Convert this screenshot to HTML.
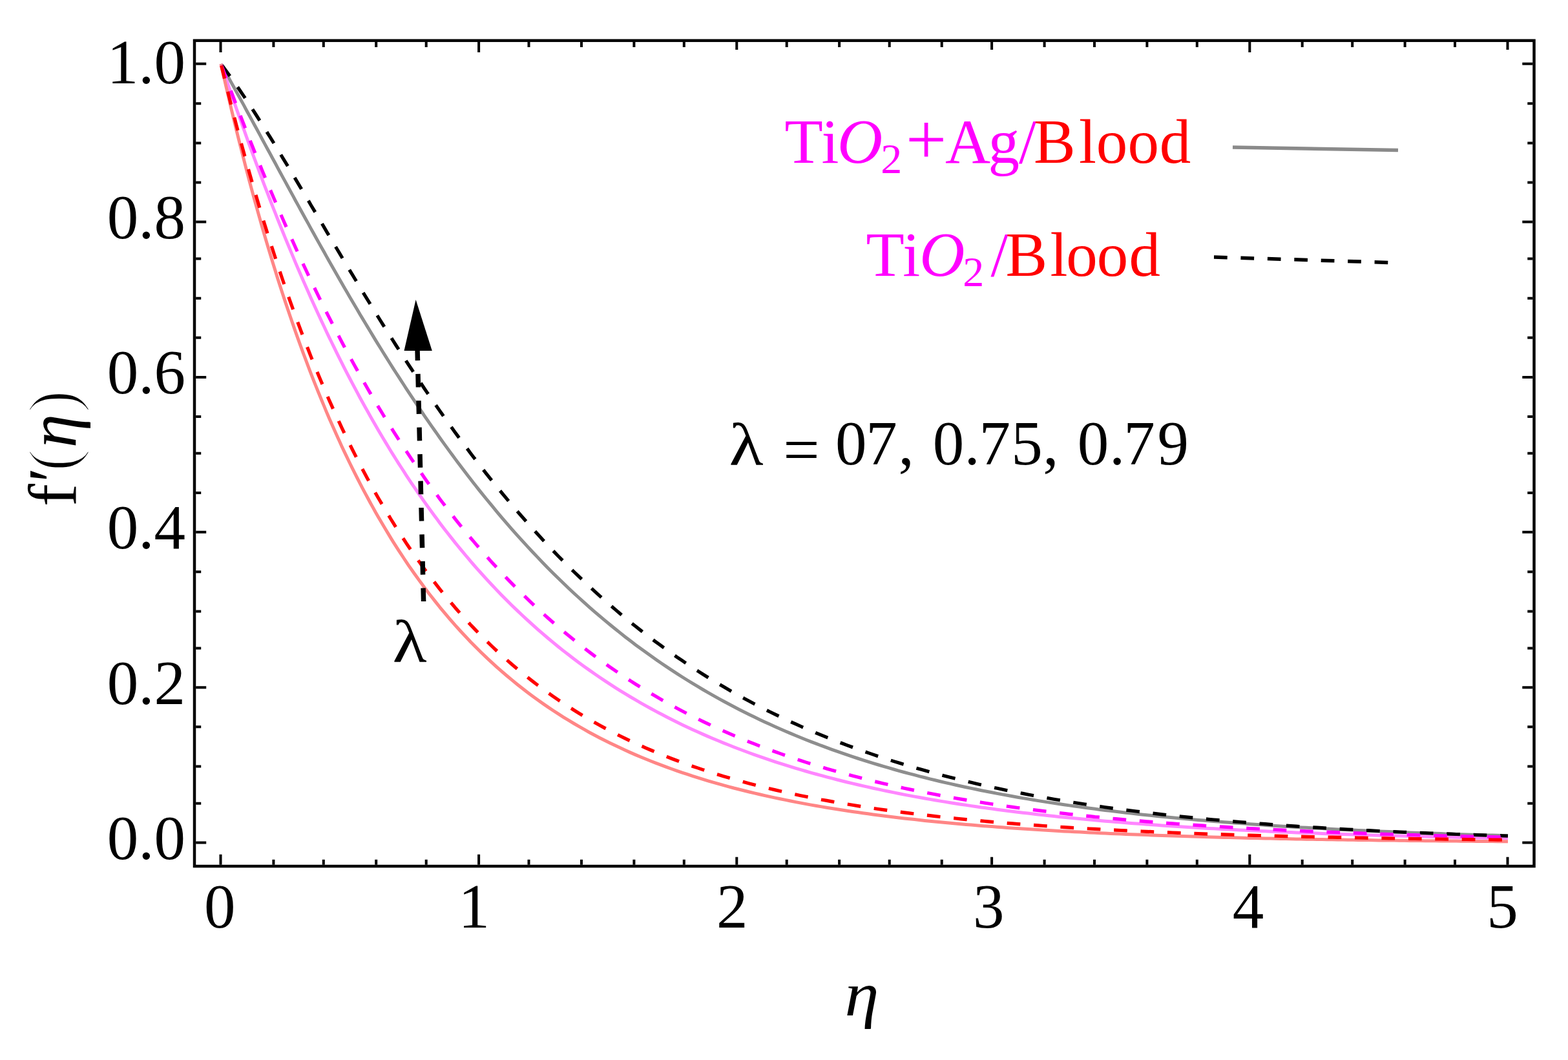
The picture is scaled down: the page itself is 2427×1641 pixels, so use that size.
<!DOCTYPE html>
<html><head><meta charset="utf-8"><title>f′(η) vs η</title>
<style>html,body{margin:0;padding:0;background:#fff;overflow:hidden;}svg{display:block;}text{font-family:"Liberation Serif","Times New Roman",serif;}</style></head><body>
<svg width="2427" height="1641" viewBox="0 0 2427 1641">
<rect x="0" y="0" width="2427" height="1641" fill="#fff"/>
<g fill="none" stroke-linejoin="round">
<path d="M342.0,99.0 L346.0,106.1 L350.0,113.3 L354.0,120.4 L357.9,127.6 L361.9,134.8 L365.9,142.1 L369.9,149.3 L373.9,156.6 L377.9,163.9 L381.8,171.2 L385.8,178.5 L389.8,185.9 L393.8,193.2 L397.8,200.5 L401.8,207.9 L405.7,215.2 L409.7,222.6 L413.7,230.0 L417.7,237.3 L421.7,244.7 L425.7,252.0 L429.6,259.4 L433.6,266.7 L437.6,274.1 L441.6,281.4 L445.6,288.7 L449.6,296.1 L453.6,303.4 L457.5,310.7 L461.5,317.9 L465.5,325.2 L469.5,332.5 L473.5,339.7 L477.5,346.9 L481.4,354.1 L485.4,361.3 L489.4,368.4 L493.4,375.6 L497.4,382.7 L501.4,389.8 L505.3,396.9 L509.3,403.9 L513.3,411.0 L517.3,418.0 L521.3,424.9 L525.3,431.9 L529.2,438.8 L533.2,445.7 L537.2,452.6 L541.2,459.4 L545.2,466.2 L549.2,473.0 L553.2,479.7 L557.1,486.5 L561.1,493.1 L565.1,499.8 L569.1,506.4 L573.1,513.0 L577.1,519.6 L581.0,526.1 L585.0,532.6 L589.0,539.0 L593.0,545.5 L597.0,551.8 L601.0,558.2 L604.9,564.5 L608.9,570.8 L612.9,577.0 L616.9,583.2 L620.9,589.4 L624.9,595.5 L628.8,601.6 L632.8,607.7 L636.8,613.7 L640.8,619.7 L644.8,625.7 L648.8,631.6 L652.8,637.5 L656.7,643.3 L660.7,649.1 L664.7,654.9 L668.7,660.6 L672.7,666.3 L676.7,671.9 L680.6,677.5 L684.6,683.1 L688.6,688.6 L692.6,694.1 L696.6,699.6 L700.6,705.0 L704.5,710.4 L708.5,715.7 L712.5,721.0 L716.5,726.3 L720.5,731.5 L724.5,736.7 L728.4,741.8 L732.4,747.0 L736.4,752.0 L740.4,757.1 L744.4,762.1 L752.4,772.0 L760.4,781.7 L768.3,791.3 L776.3,800.8 L784.3,810.1 L792.3,819.3 L800.3,828.3 L808.3,837.2 L816.3,845.9 L824.3,854.5 L832.3,862.9 L840.2,871.2 L848.2,879.4 L856.2,887.4 L864.2,895.3 L872.2,903.0 L880.2,910.7 L888.2,918.2 L896.2,925.5 L904.1,932.7 L912.1,939.9 L920.1,946.8 L928.1,953.7 L936.1,960.4 L944.1,967.0 L952.1,973.5 L960.1,979.9 L968.0,986.2 L976.0,992.3 L984.0,998.4 L992.0,1004.3 L1000.0,1010.1 L1008.0,1015.8 L1016.0,1021.5 L1024.0,1027.0 L1032.0,1032.4 L1039.9,1037.7 L1047.9,1042.9 L1055.9,1048.0 L1063.9,1053.0 L1071.9,1057.9 L1079.9,1062.7 L1087.9,1067.5 L1095.9,1072.1 L1103.8,1076.6 L1111.8,1081.1 L1119.8,1085.5 L1127.8,1089.8 L1135.8,1094.0 L1143.8,1098.2 L1151.8,1102.2 L1159.8,1106.2 L1167.7,1110.1 L1175.7,1113.9 L1183.7,1117.7 L1191.7,1121.3 L1199.7,1125.0 L1207.7,1128.5 L1215.7,1132.0 L1223.7,1135.4 L1231.7,1138.7 L1239.6,1142.0 L1247.6,1145.2 L1255.6,1148.3 L1263.6,1151.4 L1271.6,1154.4 L1279.6,1157.4 L1287.6,1160.3 L1295.6,1163.2 L1303.5,1165.9 L1311.5,1168.7 L1319.5,1171.4 L1327.5,1174.0 L1335.5,1176.6 L1343.5,1179.1 L1351.5,1181.6 L1359.5,1184.0 L1367.4,1186.4 L1375.4,1188.7 L1383.4,1191.0 L1391.4,1193.3 L1399.4,1195.5 L1407.4,1197.6 L1415.4,1199.7 L1423.4,1201.8 L1431.4,1203.8 L1439.3,1205.8 L1447.3,1207.8 L1455.3,1209.7 L1463.3,1211.6 L1471.3,1213.4 L1479.3,1215.2 L1487.3,1217.0 L1495.3,1218.7 L1503.2,1220.4 L1511.2,1222.0 L1519.2,1223.7 L1527.2,1225.3 L1535.2,1226.8 L1543.2,1228.4 L1551.2,1229.9 L1559.2,1231.3 L1567.2,1232.8 L1575.1,1234.2 L1583.1,1235.6 L1591.1,1236.9 L1599.1,1238.3 L1607.1,1239.6 L1615.1,1240.9 L1623.1,1242.1 L1631.1,1243.3 L1639.0,1244.5 L1647.0,1245.7 L1655.0,1246.9 L1663.0,1248.0 L1671.0,1249.1 L1679.0,1250.2 L1687.0,1251.3 L1695.0,1252.3 L1702.9,1253.4 L1710.9,1254.4 L1718.9,1255.3 L1726.9,1256.3 L1734.9,1257.3 L1742.9,1258.2 L1750.9,1259.1 L1758.9,1260.0 L1766.9,1260.9 L1774.8,1261.7 L1782.8,1262.6 L1790.8,1263.4 L1798.8,1264.2 L1806.8,1265.0 L1814.8,1265.8 L1822.8,1266.5 L1830.8,1267.3 L1838.7,1268.0 L1846.7,1268.7 L1854.7,1269.4 L1862.7,1270.1 L1870.7,1270.8 L1878.7,1271.4 L1886.7,1272.1 L1894.7,1272.7 L1902.6,1273.3 L1910.6,1273.9 L1918.6,1274.5 L1926.6,1275.1 L1934.6,1275.7 L1942.6,1276.3 L1950.6,1276.8 L1958.6,1277.4 L1966.6,1277.9 L1974.5,1278.4 L1982.5,1278.9 L1990.5,1279.4 L1998.5,1279.9 L2006.5,1280.4 L2014.5,1280.9 L2022.5,1281.3 L2030.5,1281.8 L2038.4,1282.2 L2046.4,1282.6 L2054.4,1283.1 L2062.4,1283.5 L2070.4,1283.9 L2078.4,1284.3 L2086.4,1284.7 L2094.4,1285.1 L2102.3,1285.5 L2110.3,1285.8 L2118.3,1286.2 L2126.3,1286.6 L2134.3,1286.9 L2142.3,1287.3 L2150.3,1287.6 L2158.3,1287.9 L2166.3,1288.2 L2174.2,1288.6 L2182.2,1288.9 L2190.2,1289.2 L2198.2,1289.5 L2206.2,1289.8 L2214.2,1290.1 L2222.2,1290.3 L2230.2,1290.6 L2238.1,1290.9 L2246.1,1291.2 L2254.1,1291.4 L2262.1,1291.7 L2270.1,1291.9 L2278.1,1292.2 L2286.1,1292.4 L2294.1,1292.6 L2302.0,1292.9 L2310.0,1293.1 L2318.0,1293.3 L2326.0,1293.5 L2334.0,1293.8" stroke="#8e8e8e" stroke-width="5"/>
<path d="M342.0,99.0 L346.0,110.7 L350.0,122.3 L354.0,133.8 L357.9,145.3 L361.9,156.7 L365.9,168.1 L369.9,179.3 L373.9,190.5 L377.9,201.7 L381.8,212.7 L385.8,223.7 L389.8,234.6 L393.8,245.4 L397.8,256.1 L401.8,266.8 L405.7,277.3 L409.7,287.8 L413.7,298.2 L417.7,308.5 L421.7,318.8 L425.7,328.9 L429.6,338.9 L433.6,348.9 L437.6,358.8 L441.6,368.6 L445.6,378.3 L449.6,387.9 L453.6,397.4 L457.5,406.9 L461.5,416.2 L465.5,425.5 L469.5,434.7 L473.5,443.8 L477.5,452.8 L481.4,461.7 L485.4,470.6 L489.4,479.3 L493.4,488.0 L497.4,496.6 L501.4,505.0 L505.3,513.5 L509.3,521.8 L513.3,530.0 L517.3,538.2 L521.3,546.3 L525.3,554.3 L529.2,562.2 L533.2,570.1 L537.2,577.8 L541.2,585.5 L545.2,593.1 L549.2,600.6 L553.2,608.1 L557.1,615.5 L561.1,622.8 L565.1,630.0 L569.1,637.1 L573.1,644.2 L577.1,651.2 L581.0,658.1 L585.0,665.0 L589.0,671.8 L593.0,678.5 L597.0,685.1 L601.0,691.7 L604.9,698.2 L608.9,704.6 L612.9,711.0 L616.9,717.3 L620.9,723.5 L624.9,729.7 L628.8,735.8 L632.8,741.8 L636.8,747.8 L640.8,753.7 L644.8,759.5 L648.8,765.3 L652.8,771.0 L656.7,776.7 L660.7,782.3 L664.7,787.8 L668.7,793.3 L672.7,798.8 L676.7,804.1 L680.6,809.4 L684.6,814.7 L688.6,819.9 L692.6,825.0 L696.6,830.1 L700.6,835.1 L704.5,840.1 L708.5,845.0 L712.5,849.9 L716.5,854.7 L720.5,859.5 L724.5,864.2 L728.4,868.9 L732.4,873.5 L736.4,878.1 L740.4,882.6 L744.4,887.0 L752.4,895.9 L760.4,904.5 L768.3,912.9 L776.3,921.2 L784.3,929.3 L792.3,937.2 L800.3,944.9 L808.3,952.5 L816.3,959.9 L824.3,967.2 L832.3,974.3 L840.2,981.2 L848.2,988.0 L856.2,994.7 L864.2,1001.2 L872.2,1007.6 L880.2,1013.8 L888.2,1019.9 L896.2,1025.9 L904.1,1031.7 L912.1,1037.4 L920.1,1043.0 L928.1,1048.5 L936.1,1053.9 L944.1,1059.1 L952.1,1064.3 L960.1,1069.3 L968.0,1074.2 L976.0,1079.0 L984.0,1083.7 L992.0,1088.3 L1000.0,1092.9 L1008.0,1097.3 L1016.0,1101.6 L1024.0,1105.8 L1032.0,1110.0 L1039.9,1114.0 L1047.9,1118.0 L1055.9,1121.9 L1063.9,1125.7 L1071.9,1129.4 L1079.9,1133.0 L1087.9,1136.6 L1095.9,1140.1 L1103.8,1143.5 L1111.8,1146.8 L1119.8,1150.1 L1127.8,1153.3 L1135.8,1156.5 L1143.8,1159.5 L1151.8,1162.5 L1159.8,1165.5 L1167.7,1168.4 L1175.7,1171.2 L1183.7,1173.9 L1191.7,1176.6 L1199.7,1179.3 L1207.7,1181.9 L1215.7,1184.4 L1223.7,1186.9 L1231.7,1189.3 L1239.6,1191.7 L1247.6,1194.0 L1255.6,1196.3 L1263.6,1198.5 L1271.6,1200.7 L1279.6,1202.8 L1287.6,1204.9 L1295.6,1207.0 L1303.5,1209.0 L1311.5,1211.0 L1319.5,1212.9 L1327.5,1214.8 L1335.5,1216.6 L1343.5,1218.4 L1351.5,1220.2 L1359.5,1221.9 L1367.4,1223.6 L1375.4,1225.3 L1383.4,1226.9 L1391.4,1228.5 L1399.4,1230.1 L1407.4,1231.6 L1415.4,1233.1 L1423.4,1234.5 L1431.4,1236.0 L1439.3,1237.4 L1447.3,1238.7 L1455.3,1240.1 L1463.3,1241.4 L1471.3,1242.7 L1479.3,1244.0 L1487.3,1245.2 L1495.3,1246.4 L1503.2,1247.6 L1511.2,1248.8 L1519.2,1249.9 L1527.2,1251.0 L1535.2,1252.1 L1543.2,1253.2 L1551.2,1254.2 L1559.2,1255.2 L1567.2,1256.2 L1575.1,1257.2 L1583.1,1258.2 L1591.1,1259.1 L1599.1,1260.0 L1607.1,1261.0 L1615.1,1261.8 L1623.1,1262.7 L1631.1,1263.6 L1639.0,1264.4 L1647.0,1265.2 L1655.0,1266.0 L1663.0,1266.8 L1671.0,1267.6 L1679.0,1268.3 L1687.0,1269.0 L1695.0,1269.8 L1702.9,1270.5 L1710.9,1271.2 L1718.9,1271.8 L1726.9,1272.5 L1734.9,1273.1 L1742.9,1273.8 L1750.9,1274.4 L1758.9,1275.0 L1766.9,1275.6 L1774.8,1276.2 L1782.8,1276.8 L1790.8,1277.3 L1798.8,1277.9 L1806.8,1278.4 L1814.8,1278.9 L1822.8,1279.5 L1830.8,1280.0 L1838.7,1280.5 L1846.7,1281.0 L1854.7,1281.4 L1862.7,1281.9 L1870.7,1282.4 L1878.7,1282.8 L1886.7,1283.2 L1894.7,1283.7 L1902.6,1284.1 L1910.6,1284.5 L1918.6,1284.9 L1926.6,1285.3 L1934.6,1285.7 L1942.6,1286.1 L1950.6,1286.5 L1958.6,1286.8 L1966.6,1287.2 L1974.5,1287.5 L1982.5,1287.9 L1990.5,1288.2 L1998.5,1288.5 L2006.5,1288.9 L2014.5,1289.2 L2022.5,1289.5 L2030.5,1289.8 L2038.4,1290.1 L2046.4,1290.4 L2054.4,1290.7 L2062.4,1291.0 L2070.4,1291.2 L2078.4,1291.5 L2086.4,1291.8 L2094.4,1292.0 L2102.3,1292.3 L2110.3,1292.5 L2118.3,1292.8 L2126.3,1293.0 L2134.3,1293.2 L2142.3,1293.5 L2150.3,1293.7 L2158.3,1293.9 L2166.3,1294.1 L2174.2,1294.3 L2182.2,1294.5 L2190.2,1294.7 L2198.2,1294.9 L2206.2,1295.1 L2214.2,1295.3 L2222.2,1295.5 L2230.2,1295.7 L2238.1,1295.9 L2246.1,1296.1 L2254.1,1296.2 L2262.1,1296.4 L2270.1,1296.6 L2278.1,1296.7 L2286.1,1296.9 L2294.1,1297.1 L2302.0,1297.2 L2310.0,1297.4 L2318.0,1297.5 L2326.0,1297.6 L2334.0,1297.8" stroke="#ff86ff" stroke-width="5"/>
<path d="M342.0,99.0 L346.0,116.7 L350.0,134.2 L354.0,151.4 L357.9,168.3 L361.9,184.9 L365.9,201.3 L369.9,217.4 L373.9,233.2 L377.9,248.8 L381.8,264.2 L385.8,279.3 L389.8,294.1 L393.8,308.8 L397.8,323.2 L401.8,337.3 L405.7,351.3 L409.7,365.0 L413.7,378.5 L417.7,391.8 L421.7,404.9 L425.7,417.8 L429.6,430.5 L433.6,443.0 L437.6,455.3 L441.6,467.4 L445.6,479.3 L449.6,491.0 L453.6,502.6 L457.5,514.0 L461.5,525.2 L465.5,536.2 L469.5,547.1 L473.5,557.7 L477.5,568.3 L481.4,578.6 L485.4,588.8 L489.4,598.9 L493.4,608.8 L497.4,618.5 L501.4,628.1 L505.3,637.6 L509.3,646.9 L513.3,656.1 L517.3,665.1 L521.3,674.0 L525.3,682.7 L529.2,691.4 L533.2,699.9 L537.2,708.2 L541.2,716.5 L545.2,724.6 L549.2,732.6 L553.2,740.5 L557.1,748.2 L561.1,755.9 L565.1,763.4 L569.1,770.8 L573.1,778.2 L577.1,785.4 L581.0,792.5 L585.0,799.4 L589.0,806.3 L593.0,813.1 L597.0,819.8 L601.0,826.4 L604.9,832.9 L608.9,839.3 L612.9,845.6 L616.9,851.8 L620.9,857.9 L624.9,864.0 L628.8,869.9 L632.8,875.8 L636.8,881.5 L640.8,887.2 L644.8,892.8 L648.8,898.4 L652.8,903.8 L656.7,909.2 L660.7,914.5 L664.7,919.7 L668.7,924.8 L672.7,929.9 L676.7,934.9 L680.6,939.8 L684.6,944.6 L688.6,949.4 L692.6,954.1 L696.6,958.8 L700.6,963.4 L704.5,967.9 L708.5,972.3 L712.5,976.7 L716.5,981.0 L720.5,985.3 L724.5,989.5 L728.4,993.7 L732.4,997.7 L736.4,1001.8 L740.4,1005.8 L744.4,1009.7 L752.4,1017.4 L760.4,1024.8 L768.3,1032.1 L776.3,1039.2 L784.3,1046.0 L792.3,1052.7 L800.3,1059.2 L808.3,1065.5 L816.3,1071.7 L824.3,1077.7 L832.3,1083.5 L840.2,1089.1 L848.2,1094.6 L856.2,1100.0 L864.2,1105.2 L872.2,1110.3 L880.2,1115.2 L888.2,1120.0 L896.2,1124.7 L904.1,1129.2 L912.1,1133.7 L920.1,1138.0 L928.1,1142.2 L936.1,1146.2 L944.1,1150.2 L952.1,1154.1 L960.1,1157.8 L968.0,1161.5 L976.0,1165.1 L984.0,1168.6 L992.0,1172.0 L1000.0,1175.3 L1008.0,1178.5 L1016.0,1181.6 L1024.0,1184.6 L1032.0,1187.6 L1039.9,1190.5 L1047.9,1193.3 L1055.9,1196.1 L1063.9,1198.7 L1071.9,1201.4 L1079.9,1203.9 L1087.9,1206.4 L1095.9,1208.8 L1103.8,1211.1 L1111.8,1213.4 L1119.8,1215.7 L1127.8,1217.8 L1135.8,1220.0 L1143.8,1222.0 L1151.8,1224.0 L1159.8,1226.0 L1167.7,1227.9 L1175.7,1229.8 L1183.7,1231.6 L1191.7,1233.4 L1199.7,1235.1 L1207.7,1236.8 L1215.7,1238.4 L1223.7,1240.0 L1231.7,1241.6 L1239.6,1243.1 L1247.6,1244.6 L1255.6,1246.1 L1263.6,1247.5 L1271.6,1248.9 L1279.6,1250.2 L1287.6,1251.5 L1295.6,1252.8 L1303.5,1254.0 L1311.5,1255.3 L1319.5,1256.5 L1327.5,1257.6 L1335.5,1258.7 L1343.5,1259.8 L1351.5,1260.9 L1359.5,1262.0 L1367.4,1263.0 L1375.4,1264.0 L1383.4,1265.0 L1391.4,1265.9 L1399.4,1266.9 L1407.4,1267.8 L1415.4,1268.6 L1423.4,1269.5 L1431.4,1270.4 L1439.3,1271.2 L1447.3,1272.0 L1455.3,1272.8 L1463.3,1273.5 L1471.3,1274.3 L1479.3,1275.0 L1487.3,1275.7 L1495.3,1276.4 L1503.2,1277.1 L1511.2,1277.7 L1519.2,1278.4 L1527.2,1279.0 L1535.2,1279.6 L1543.2,1280.2 L1551.2,1280.8 L1559.2,1281.4 L1567.2,1282.0 L1575.1,1282.5 L1583.1,1283.0 L1591.1,1283.5 L1599.1,1284.1 L1607.1,1284.6 L1615.1,1285.0 L1623.1,1285.5 L1631.1,1286.0 L1639.0,1286.4 L1647.0,1286.9 L1655.0,1287.3 L1663.0,1287.7 L1671.0,1288.1 L1679.0,1288.5 L1687.0,1288.9 L1695.0,1289.3 L1702.9,1289.7 L1710.9,1290.0 L1718.9,1290.4 L1726.9,1290.7 L1734.9,1291.1 L1742.9,1291.4 L1750.9,1291.7 L1758.9,1292.0 L1766.9,1292.3 L1774.8,1292.6 L1782.8,1292.9 L1790.8,1293.2 L1798.8,1293.5 L1806.8,1293.8 L1814.8,1294.0 L1822.8,1294.3 L1830.8,1294.6 L1838.7,1294.8 L1846.7,1295.0 L1854.7,1295.3 L1862.7,1295.5 L1870.7,1295.7 L1878.7,1296.0 L1886.7,1296.2 L1894.7,1296.4 L1902.6,1296.6 L1910.6,1296.8 L1918.6,1297.0 L1926.6,1297.2 L1934.6,1297.4 L1942.6,1297.5 L1950.6,1297.7 L1958.6,1297.9 L1966.6,1298.1 L1974.5,1298.2 L1982.5,1298.4 L1990.5,1298.6 L1998.5,1298.7 L2006.5,1298.9 L2014.5,1299.0 L2022.5,1299.2 L2030.5,1299.3 L2038.4,1299.4 L2046.4,1299.6 L2054.4,1299.7 L2062.4,1299.8 L2070.4,1300.0 L2078.4,1300.1 L2086.4,1300.2 L2094.4,1300.3 L2102.3,1300.4 L2110.3,1300.5 L2118.3,1300.6 L2126.3,1300.7 L2134.3,1300.9 L2142.3,1301.0 L2150.3,1301.1 L2158.3,1301.1 L2166.3,1301.2 L2174.2,1301.3 L2182.2,1301.4 L2190.2,1301.5 L2198.2,1301.6 L2206.2,1301.7 L2214.2,1301.8 L2222.2,1301.8 L2230.2,1301.9 L2238.1,1302.0 L2246.1,1302.1 L2254.1,1302.1 L2262.1,1302.2 L2270.1,1302.3 L2278.1,1302.3 L2286.1,1302.4 L2294.1,1302.5 L2302.0,1302.5 L2310.0,1302.6 L2318.0,1302.7 L2326.0,1302.7 L2334.0,1302.8" stroke="#ff8686" stroke-width="5"/>
<path d="M342.0,99.0 L346.0,104.3 L350.0,109.7 L354.0,115.2 L357.9,120.7 L361.9,126.3 L365.9,132.1 L369.9,137.8 L373.9,143.7 L377.9,149.6 L381.8,155.6 L385.8,161.6 L389.8,167.7 L393.8,173.8 L397.8,180.0 L401.8,186.3 L405.7,192.6 L409.7,198.9 L413.7,205.3 L417.7,211.7 L421.7,218.1 L425.7,224.6 L429.6,231.1 L433.6,237.7 L437.6,244.3 L441.6,250.8 L445.6,257.5 L449.6,264.1 L453.6,270.7 L457.5,277.4 L461.5,284.1 L465.5,290.8 L469.5,297.5 L473.5,304.2 L477.5,310.9 L481.4,317.7 L485.4,324.4 L489.4,331.1 L493.4,337.9 L497.4,344.6 L501.4,351.4 L505.3,358.1 L509.3,364.8 L513.3,371.5 L517.3,378.2 L521.3,385.0 L525.3,391.6 L529.2,398.3 L533.2,405.0 L537.2,411.7 L541.2,418.3 L545.2,424.9 L549.2,431.5 L553.2,438.1 L557.1,444.7 L561.1,451.3 L565.1,457.8 L569.1,464.3 L573.1,470.8 L577.1,477.3 L581.0,483.8 L585.0,490.2 L589.0,496.6 L593.0,503.0 L597.0,509.3 L601.0,515.6 L604.9,521.9 L608.9,528.2 L612.9,534.5 L616.9,540.7 L620.9,546.9 L624.9,553.0 L628.8,559.2 L632.8,565.3 L636.8,571.3 L640.8,577.4 L644.8,583.4 L648.8,589.3 L652.8,595.3 L656.7,601.2 L660.7,607.1 L664.7,612.9 L668.7,618.7 L672.7,624.5 L676.7,630.2 L680.6,635.9 L684.6,641.6 L688.6,647.3 L692.6,652.9 L696.6,658.4 L700.6,664.0 L704.5,669.5 L708.5,674.9 L712.5,680.4 L716.5,685.8 L720.5,691.1 L724.5,696.4 L728.4,701.7 L732.4,707.0 L736.4,712.2 L740.4,717.4 L744.4,722.5 L752.4,732.8 L760.4,742.8 L768.3,752.8 L776.3,762.5 L784.3,772.2 L792.3,781.7 L800.3,791.1 L808.3,800.3 L816.3,809.4 L824.3,818.3 L832.3,827.1 L840.2,835.8 L848.2,844.3 L856.2,852.7 L864.2,861.0 L872.2,869.1 L880.2,877.1 L888.2,885.0 L896.2,892.7 L904.1,900.3 L912.1,907.8 L920.1,915.2 L928.1,922.4 L936.1,929.5 L944.1,936.5 L952.1,943.4 L960.1,950.2 L968.0,956.8 L976.0,963.4 L984.0,969.8 L992.0,976.1 L1000.0,982.3 L1008.0,988.4 L1016.0,994.4 L1024.0,1000.2 L1032.0,1006.0 L1039.9,1011.7 L1047.9,1017.3 L1055.9,1022.7 L1063.9,1028.1 L1071.9,1033.4 L1079.9,1038.6 L1087.9,1043.7 L1095.9,1048.7 L1103.8,1053.6 L1111.8,1058.4 L1119.8,1063.1 L1127.8,1067.8 L1135.8,1072.3 L1143.8,1076.8 L1151.8,1081.2 L1159.8,1085.5 L1167.7,1089.7 L1175.7,1093.9 L1183.7,1098.0 L1191.7,1102.0 L1199.7,1105.9 L1207.7,1109.8 L1215.7,1113.6 L1223.7,1117.3 L1231.7,1120.9 L1239.6,1124.5 L1247.6,1128.0 L1255.6,1131.5 L1263.6,1134.9 L1271.6,1138.2 L1279.6,1141.4 L1287.6,1144.6 L1295.6,1147.8 L1303.5,1150.8 L1311.5,1153.9 L1319.5,1156.8 L1327.5,1159.7 L1335.5,1162.6 L1343.5,1165.4 L1351.5,1168.1 L1359.5,1170.8 L1367.4,1173.5 L1375.4,1176.0 L1383.4,1178.6 L1391.4,1181.1 L1399.4,1183.5 L1407.4,1185.9 L1415.4,1188.3 L1423.4,1190.6 L1431.4,1192.8 L1439.3,1195.1 L1447.3,1197.2 L1455.3,1199.4 L1463.3,1201.5 L1471.3,1203.5 L1479.3,1205.5 L1487.3,1207.5 L1495.3,1209.4 L1503.2,1211.3 L1511.2,1213.2 L1519.2,1215.0 L1527.2,1216.8 L1535.2,1218.6 L1543.2,1220.3 L1551.2,1222.0 L1559.2,1223.7 L1567.2,1225.3 L1575.1,1226.9 L1583.1,1228.4 L1591.1,1230.0 L1599.1,1231.5 L1607.1,1232.9 L1615.1,1234.4 L1623.1,1235.8 L1631.1,1237.2 L1639.0,1238.5 L1647.0,1239.9 L1655.0,1241.2 L1663.0,1242.5 L1671.0,1243.7 L1679.0,1245.0 L1687.0,1246.2 L1695.0,1247.4 L1702.9,1248.5 L1710.9,1249.7 L1718.9,1250.8 L1726.9,1251.9 L1734.9,1252.9 L1742.9,1254.0 L1750.9,1255.0 L1758.9,1256.0 L1766.9,1257.0 L1774.8,1258.0 L1782.8,1259.0 L1790.8,1259.9 L1798.8,1260.8 L1806.8,1261.7 L1814.8,1262.6 L1822.8,1263.4 L1830.8,1264.3 L1838.7,1265.1 L1846.7,1265.9 L1854.7,1266.7 L1862.7,1267.5 L1870.7,1268.3 L1878.7,1269.0 L1886.7,1269.7 L1894.7,1270.5 L1902.6,1271.2 L1910.6,1271.9 L1918.6,1272.5 L1926.6,1273.2 L1934.6,1273.8 L1942.6,1274.5 L1950.6,1275.1 L1958.6,1275.7 L1966.6,1276.3 L1974.5,1276.9 L1982.5,1277.5 L1990.5,1278.1 L1998.5,1278.6 L2006.5,1279.1 L2014.5,1279.7 L2022.5,1280.2 L2030.5,1280.7 L2038.4,1281.2 L2046.4,1281.7 L2054.4,1282.2 L2062.4,1282.7 L2070.4,1283.1 L2078.4,1283.6 L2086.4,1284.0 L2094.4,1284.4 L2102.3,1284.9 L2110.3,1285.3 L2118.3,1285.7 L2126.3,1286.1 L2134.3,1286.5 L2142.3,1286.9 L2150.3,1287.2 L2158.3,1287.6 L2166.3,1288.0 L2174.2,1288.3 L2182.2,1288.7 L2190.2,1289.0 L2198.2,1289.3 L2206.2,1289.7 L2214.2,1290.0 L2222.2,1290.3 L2230.2,1290.6 L2238.1,1290.9 L2246.1,1291.2 L2254.1,1291.5 L2262.1,1291.8 L2270.1,1292.0 L2278.1,1292.3 L2286.1,1292.6 L2294.1,1292.8 L2302.0,1293.1 L2310.0,1293.3 L2318.0,1293.6 L2326.0,1293.8 L2334.0,1294.1" stroke="#000000" stroke-width="5.2" stroke-dasharray="20.7 20.75" stroke-dashoffset="-2.6"/>
<path d="M342.0,99.0 L346.0,109.9 L350.0,120.6 L354.0,131.3 L357.9,142.0 L361.9,152.5 L365.9,163.0 L369.9,173.4 L373.9,183.7 L377.9,194.0 L381.8,204.2 L385.8,214.2 L389.8,224.3 L393.8,234.2 L397.8,244.1 L401.8,253.9 L405.7,263.6 L409.7,273.3 L413.7,282.9 L417.7,292.4 L421.7,301.8 L425.7,311.2 L429.6,320.4 L433.6,329.6 L437.6,338.8 L441.6,347.9 L445.6,356.9 L449.6,365.8 L453.6,374.6 L457.5,383.4 L461.5,392.1 L465.5,400.8 L469.5,409.3 L473.5,417.8 L477.5,426.3 L481.4,434.6 L485.4,442.9 L489.4,451.1 L493.4,459.3 L497.4,467.4 L501.4,475.4 L505.3,483.3 L509.3,491.2 L513.3,499.0 L517.3,506.8 L521.3,514.5 L525.3,522.1 L529.2,529.7 L533.2,537.2 L537.2,544.6 L541.2,551.9 L545.2,559.2 L549.2,566.5 L553.2,573.6 L557.1,580.8 L561.1,587.8 L565.1,594.8 L569.1,601.7 L573.1,608.6 L577.1,615.4 L581.0,622.1 L585.0,628.8 L589.0,635.4 L593.0,642.0 L597.0,648.5 L601.0,654.9 L604.9,661.3 L608.9,667.6 L612.9,673.9 L616.9,680.1 L620.9,686.3 L624.9,692.4 L628.8,698.4 L632.8,704.4 L636.8,710.4 L640.8,716.2 L644.8,722.1 L648.8,727.9 L652.8,733.6 L656.7,739.2 L660.7,744.9 L664.7,750.4 L668.7,755.9 L672.7,761.4 L676.7,766.8 L680.6,772.2 L684.6,777.5 L688.6,782.7 L692.6,787.9 L696.6,793.1 L700.6,798.2 L704.5,803.3 L708.5,808.3 L712.5,813.3 L716.5,818.2 L720.5,823.1 L724.5,827.9 L728.4,832.7 L732.4,837.4 L736.4,842.1 L740.4,846.8 L744.4,851.4 L752.4,860.5 L760.4,869.4 L768.3,878.1 L776.3,886.7 L784.3,895.1 L792.3,903.4 L800.3,911.5 L808.3,919.4 L816.3,927.2 L824.3,934.8 L832.3,942.3 L840.2,949.6 L848.2,956.8 L856.2,963.8 L864.2,970.7 L872.2,977.5 L880.2,984.1 L888.2,990.6 L896.2,997.0 L904.1,1003.2 L912.1,1009.4 L920.1,1015.4 L928.1,1021.2 L936.1,1027.0 L944.1,1032.7 L952.1,1038.2 L960.1,1043.6 L968.0,1048.9 L976.0,1054.1 L984.0,1059.2 L992.0,1064.2 L1000.0,1069.1 L1008.0,1073.9 L1016.0,1078.6 L1024.0,1083.2 L1032.0,1087.7 L1039.9,1092.1 L1047.9,1096.5 L1055.9,1100.7 L1063.9,1104.9 L1071.9,1108.9 L1079.9,1112.9 L1087.9,1116.8 L1095.9,1120.6 L1103.8,1124.4 L1111.8,1128.1 L1119.8,1131.7 L1127.8,1135.2 L1135.8,1138.6 L1143.8,1142.0 L1151.8,1145.3 L1159.8,1148.6 L1167.7,1151.7 L1175.7,1154.8 L1183.7,1157.9 L1191.7,1160.9 L1199.7,1163.8 L1207.7,1166.6 L1215.7,1169.5 L1223.7,1172.2 L1231.7,1174.9 L1239.6,1177.5 L1247.6,1180.1 L1255.6,1182.6 L1263.6,1185.1 L1271.6,1187.5 L1279.6,1189.9 L1287.6,1192.2 L1295.6,1194.5 L1303.5,1196.7 L1311.5,1198.9 L1319.5,1201.0 L1327.5,1203.1 L1335.5,1205.2 L1343.5,1207.2 L1351.5,1209.2 L1359.5,1211.1 L1367.4,1213.0 L1375.4,1214.8 L1383.4,1216.6 L1391.4,1218.4 L1399.4,1220.2 L1407.4,1221.9 L1415.4,1223.5 L1423.4,1225.2 L1431.4,1226.8 L1439.3,1228.3 L1447.3,1229.8 L1455.3,1231.4 L1463.3,1232.8 L1471.3,1234.3 L1479.3,1235.7 L1487.3,1237.1 L1495.3,1238.4 L1503.2,1239.7 L1511.2,1241.0 L1519.2,1242.3 L1527.2,1243.5 L1535.2,1244.8 L1543.2,1246.0 L1551.2,1247.1 L1559.2,1248.3 L1567.2,1249.4 L1575.1,1250.5 L1583.1,1251.6 L1591.1,1252.6 L1599.1,1253.7 L1607.1,1254.7 L1615.1,1255.7 L1623.1,1256.6 L1631.1,1257.6 L1639.0,1258.5 L1647.0,1259.4 L1655.0,1260.3 L1663.0,1261.2 L1671.0,1262.1 L1679.0,1262.9 L1687.0,1263.7 L1695.0,1264.6 L1702.9,1265.3 L1710.9,1266.1 L1718.9,1266.9 L1726.9,1267.6 L1734.9,1268.3 L1742.9,1269.1 L1750.9,1269.8 L1758.9,1270.4 L1766.9,1271.1 L1774.8,1271.8 L1782.8,1272.4 L1790.8,1273.1 L1798.8,1273.7 L1806.8,1274.3 L1814.8,1274.9 L1822.8,1275.5 L1830.8,1276.0 L1838.7,1276.6 L1846.7,1277.1 L1854.7,1277.7 L1862.7,1278.2 L1870.7,1278.7 L1878.7,1279.2 L1886.7,1279.7 L1894.7,1280.2 L1902.6,1280.7 L1910.6,1281.1 L1918.6,1281.6 L1926.6,1282.0 L1934.6,1282.5 L1942.6,1282.9 L1950.6,1283.3 L1958.6,1283.7 L1966.6,1284.1 L1974.5,1284.5 L1982.5,1284.9 L1990.5,1285.3 L1998.5,1285.7 L2006.5,1286.0 L2014.5,1286.4 L2022.5,1286.8 L2030.5,1287.1 L2038.4,1287.4 L2046.4,1287.8 L2054.4,1288.1 L2062.4,1288.4 L2070.4,1288.7 L2078.4,1289.0 L2086.4,1289.3 L2094.4,1289.6 L2102.3,1289.9 L2110.3,1290.2 L2118.3,1290.5 L2126.3,1290.7 L2134.3,1291.0 L2142.3,1291.3 L2150.3,1291.5 L2158.3,1291.8 L2166.3,1292.0 L2174.2,1292.3 L2182.2,1292.5 L2190.2,1292.7 L2198.2,1293.0 L2206.2,1293.2 L2214.2,1293.4 L2222.2,1293.6 L2230.2,1293.8 L2238.1,1294.0 L2246.1,1294.2 L2254.1,1294.4 L2262.1,1294.6 L2270.1,1294.8 L2278.1,1295.0 L2286.1,1295.2 L2294.1,1295.4 L2302.0,1295.5 L2310.0,1295.7 L2318.0,1295.9 L2326.0,1296.0 L2334.0,1296.2" stroke="#ff00ff" stroke-width="5.2" stroke-dasharray="20.7 20.75" stroke-dashoffset="-2.6"/>
<path d="M342.0,99.0 L346.0,115.4 L350.0,131.5 L354.0,147.4 L357.9,163.1 L361.9,178.5 L365.9,193.8 L369.9,208.8 L373.9,223.6 L377.9,238.2 L381.8,252.5 L385.8,266.7 L389.8,280.7 L393.8,294.4 L397.8,308.0 L401.8,321.4 L405.7,334.6 L409.7,347.6 L413.7,360.4 L417.7,373.0 L421.7,385.4 L425.7,397.7 L429.6,409.8 L433.6,421.7 L437.6,433.5 L441.6,445.1 L445.6,456.5 L449.6,467.8 L453.6,478.9 L457.5,489.8 L461.5,500.6 L465.5,511.3 L469.5,521.8 L473.5,532.1 L477.5,542.3 L481.4,552.4 L485.4,562.3 L489.4,572.1 L493.4,581.7 L497.4,591.2 L501.4,600.6 L505.3,609.8 L509.3,619.0 L513.3,627.9 L517.3,636.8 L521.3,645.5 L525.3,654.2 L529.2,662.7 L533.2,671.0 L537.2,679.3 L541.2,687.4 L545.2,695.5 L549.2,703.4 L553.2,711.2 L557.1,718.9 L561.1,726.5 L565.1,734.0 L569.1,741.4 L573.1,748.7 L577.1,755.9 L581.0,763.0 L585.0,770.0 L589.0,776.8 L593.0,783.6 L597.0,790.4 L601.0,797.0 L604.9,803.5 L608.9,809.9 L612.9,816.3 L616.9,822.5 L620.9,828.7 L624.9,834.8 L628.8,840.8 L632.8,846.7 L636.8,852.6 L640.8,858.3 L644.8,864.0 L648.8,869.6 L652.8,875.2 L656.7,880.6 L660.7,886.0 L664.7,891.3 L668.7,896.6 L672.7,901.7 L676.7,906.8 L680.6,911.9 L684.6,916.8 L688.6,921.7 L692.6,926.6 L696.6,931.3 L700.6,936.0 L704.5,940.7 L708.5,945.2 L712.5,949.8 L716.5,954.2 L720.5,958.6 L724.5,962.9 L728.4,967.2 L732.4,971.4 L736.4,975.6 L740.4,979.7 L744.4,983.8 L752.4,991.7 L760.4,999.5 L768.3,1007.0 L776.3,1014.4 L784.3,1021.5 L792.3,1028.5 L800.3,1035.3 L808.3,1041.9 L816.3,1048.3 L824.3,1054.6 L832.3,1060.7 L840.2,1066.7 L848.2,1072.5 L856.2,1078.1 L864.2,1083.6 L872.2,1088.9 L880.2,1094.1 L888.2,1099.2 L896.2,1104.2 L904.1,1109.0 L912.1,1113.7 L920.1,1118.3 L928.1,1122.7 L936.1,1127.1 L944.1,1131.3 L952.1,1135.4 L960.1,1139.5 L968.0,1143.4 L976.0,1147.2 L984.0,1150.9 L992.0,1154.5 L1000.0,1158.1 L1008.0,1161.5 L1016.0,1164.9 L1024.0,1168.2 L1032.0,1171.4 L1039.9,1174.5 L1047.9,1177.5 L1055.9,1180.5 L1063.9,1183.4 L1071.9,1186.2 L1079.9,1188.9 L1087.9,1191.6 L1095.9,1194.2 L1103.8,1196.8 L1111.8,1199.2 L1119.8,1201.7 L1127.8,1204.0 L1135.8,1206.3 L1143.8,1208.6 L1151.8,1210.8 L1159.8,1212.9 L1167.7,1215.0 L1175.7,1217.0 L1183.7,1219.0 L1191.7,1221.0 L1199.7,1222.9 L1207.7,1224.7 L1215.7,1226.5 L1223.7,1228.3 L1231.7,1230.0 L1239.6,1231.7 L1247.6,1233.3 L1255.6,1234.9 L1263.6,1236.4 L1271.6,1238.0 L1279.6,1239.4 L1287.6,1240.9 L1295.6,1242.3 L1303.5,1243.7 L1311.5,1245.0 L1319.5,1246.3 L1327.5,1247.6 L1335.5,1248.9 L1343.5,1250.1 L1351.5,1251.3 L1359.5,1252.5 L1367.4,1253.6 L1375.4,1254.7 L1383.4,1255.8 L1391.4,1256.9 L1399.4,1257.9 L1407.4,1258.9 L1415.4,1259.9 L1423.4,1260.9 L1431.4,1261.8 L1439.3,1262.7 L1447.3,1263.6 L1455.3,1264.5 L1463.3,1265.4 L1471.3,1266.2 L1479.3,1267.0 L1487.3,1267.8 L1495.3,1268.6 L1503.2,1269.4 L1511.2,1270.1 L1519.2,1270.9 L1527.2,1271.6 L1535.2,1272.3 L1543.2,1273.0 L1551.2,1273.6 L1559.2,1274.3 L1567.2,1274.9 L1575.1,1275.6 L1583.1,1276.2 L1591.1,1276.8 L1599.1,1277.3 L1607.1,1277.9 L1615.1,1278.5 L1623.1,1279.0 L1631.1,1279.5 L1639.0,1280.1 L1647.0,1280.6 L1655.0,1281.1 L1663.0,1281.6 L1671.0,1282.0 L1679.0,1282.5 L1687.0,1283.0 L1695.0,1283.4 L1702.9,1283.8 L1710.9,1284.3 L1718.9,1284.7 L1726.9,1285.1 L1734.9,1285.5 L1742.9,1285.9 L1750.9,1286.3 L1758.9,1286.6 L1766.9,1287.0 L1774.8,1287.3 L1782.8,1287.7 L1790.8,1288.0 L1798.8,1288.4 L1806.8,1288.7 L1814.8,1289.0 L1822.8,1289.3 L1830.8,1289.6 L1838.7,1289.9 L1846.7,1290.2 L1854.7,1290.5 L1862.7,1290.8 L1870.7,1291.1 L1878.7,1291.3 L1886.7,1291.6 L1894.7,1291.9 L1902.6,1292.1 L1910.6,1292.4 L1918.6,1292.6 L1926.6,1292.9 L1934.6,1293.1 L1942.6,1293.3 L1950.6,1293.5 L1958.6,1293.8 L1966.6,1294.0 L1974.5,1294.2 L1982.5,1294.4 L1990.5,1294.6 L1998.5,1294.8 L2006.5,1295.0 L2014.5,1295.2 L2022.5,1295.3 L2030.5,1295.5 L2038.4,1295.7 L2046.4,1295.9 L2054.4,1296.0 L2062.4,1296.2 L2070.4,1296.4 L2078.4,1296.5 L2086.4,1296.7 L2094.4,1296.8 L2102.3,1297.0 L2110.3,1297.1 L2118.3,1297.3 L2126.3,1297.4 L2134.3,1297.6 L2142.3,1297.7 L2150.3,1297.8 L2158.3,1298.0 L2166.3,1298.1 L2174.2,1298.2 L2182.2,1298.3 L2190.2,1298.5 L2198.2,1298.6 L2206.2,1298.7 L2214.2,1298.8 L2222.2,1298.9 L2230.2,1299.0 L2238.1,1299.1 L2246.1,1299.2 L2254.1,1299.3 L2262.1,1299.4 L2270.1,1299.5 L2278.1,1299.6 L2286.1,1299.7 L2294.1,1299.8 L2302.0,1299.9 L2310.0,1300.0 L2318.0,1300.1 L2326.0,1300.2 L2334.0,1300.3" stroke="#ff0000" stroke-width="5.2" stroke-dasharray="20.7 20.75" stroke-dashoffset="-2.6"/>
</g>
<rect x="301.0" y="62.8" width="2073.5" height="1278.2" fill="none" stroke="#000" stroke-width="4.5"/>
<path d="M341.5,1338.8V1322.8M341.5,65.0V81.0M423.4,1338.8V1330.8M423.4,65.0V73.0M500.8,1338.8V1330.8M500.8,65.0V73.0M582.2,1338.8V1330.8M582.2,65.0V73.0M659.7,1338.8V1330.8M659.7,65.0V73.0M741.1,1338.8V1322.8M741.1,65.0V81.0M818.5,1338.8V1330.8M818.5,65.0V73.0M900.0,1338.8V1330.8M900.0,65.0V73.0M981.4,1338.8V1330.8M981.4,65.0V73.0M1058.8,1338.8V1330.8M1058.8,65.0V73.0M1140.3,1338.8V1326.8M1140.3,65.0V77.0M1217.7,1338.8V1330.8M1217.7,65.0V73.0M1299.1,1338.8V1330.8M1299.1,65.0V73.0M1376.7,1338.8V1330.8M1376.7,65.0V73.0M1457.7,1338.8V1330.8M1457.7,65.0V73.0M1535.1,1338.8V1326.8M1535.1,65.0V77.0M1616.6,1338.8V1330.8M1616.6,65.0V73.0M1694.0,1338.8V1330.8M1694.0,65.0V73.0M1775.4,1338.8V1330.8M1775.4,65.0V73.0M1852.8,1338.8V1330.8M1852.8,65.0V73.0M1934.3,1338.8V1322.8M1934.3,65.0V81.0M2015.7,1338.8V1330.8M2015.7,65.0V73.0M2093.2,1338.8V1330.8M2093.2,65.0V73.0M2174.6,1338.8V1330.8M2174.6,65.0V73.0M2252.0,1338.8V1330.8M2252.0,65.0V73.0M2333.5,1338.8V1326.8M2333.5,65.0V77.0M303.2,1304.5H319.2M2372.3,1304.5H2356.3M303.2,1243.8H311.2M2372.3,1243.8H2364.3M303.2,1186.4H311.2M2372.3,1186.4H2364.3M303.2,1125.3H311.2M2372.3,1125.3H2364.3M303.2,1064.2H319.2M2372.3,1064.2H2356.3M303.2,1003.5H311.2M2372.3,1003.5H2364.3M303.2,946.4H311.2M2372.3,946.4H2364.3M303.2,885.3H311.2M2372.3,885.3H2364.3M303.2,823.8H319.2M2372.3,823.8H2356.3M303.2,763.1H311.2M2372.3,763.1H2364.3M303.2,701.8H311.2M2372.3,701.8H2364.3M303.2,645.0H311.2M2372.3,645.0H2364.3M303.2,583.9H319.2M2372.3,583.9H2356.3M303.2,522.8H311.2M2372.3,522.8H2364.3M303.2,461.7H311.2M2372.3,461.7H2364.3M303.2,400.6H311.2M2372.3,400.6H2364.3M303.2,343.6H319.2M2372.3,343.6H2356.3M303.2,282.5H311.2M2372.3,282.5H2364.3M303.2,221.4H311.2M2372.3,221.4H2364.3M303.2,160.3H311.2M2372.3,160.3H2364.3M303.2,98.7H319.2M2372.3,98.7H2356.3" stroke="#000" stroke-width="4" fill="none"/>
<g font-size="97" fill="#000">
<text x="287" y="1329.8" text-anchor="end">0.0</text>
<text x="287" y="1089.6" text-anchor="end">0.2</text>
<text x="287" y="849.4" text-anchor="end">0.4</text>
<text x="287" y="609.2" text-anchor="end">0.6</text>
<text x="287" y="369.0" text-anchor="end">0.8</text>
<text x="287" y="128.8" text-anchor="end">1.0</text>
<text x="315.9" y="1436">0</text>
<text x="709.6" y="1436">1</text>
<text x="1109.1" y="1436">2</text>
<text x="1506.1" y="1436">3</text>
<text x="1907.8" y="1436">4</text>
<text x="2301.2" y="1436">5</text>
</g>
<text transform="translate(1333.6,1571.5) scale(1.1,1)" x="-23.78" y="0" font-size="97" font-style="italic">η</text>
<text transform="translate(117.2,0) rotate(-90)" font-size="105">
<tspan x="-784.1" y="0">f</tspan>
<tspan x="-746.5" y="0">′</tspan>
<tspan x="-729.7" y="0" stroke="#fff" stroke-width="3.2">(</tspan>
<tspan x="-693.2" y="0" font-style="italic">η</tspan>
<tspan x="-638.9" y="0" stroke="#fff" stroke-width="3.2">)</tspan>
</text>
<text y="251.5" font-size="97" fill="#ff00ff"><tspan x="1214.4 1271.5">Ti</tspan><tspan x="1296.0" font-style="italic">O</tspan><tspan x="1363.2" y="267.9" font-size="66">2</tspan><tspan x="1402.0" y="254.4" font-size="112">+</tspan><tspan x="1463.1 1529.5 1577.0" y="251.5">Ag/</tspan><tspan x="1600.0 1670.0 1696.7 1745.5 1794.8" y="251.5" fill="#ff0000">Blood</tspan></text>
<text y="427.0" font-size="97" fill="#ff00ff"><tspan x="1340.6 1397.2">Ti</tspan><tspan x="1423.2" font-style="italic">O</tspan><tspan x="1490.3" y="443.3" font-size="66">2</tspan><tspan x="1533.4" y="427">/</tspan><tspan x="1556.4 1625.5 1650.3 1697.8 1747.5" y="427.0" fill="#ff0000">Blood</tspan></text>
<line x1="1908" y1="228" x2="2164" y2="232.5" stroke="#8a8a8a" stroke-width="5.5"/>
<line x1="1879" y1="398" x2="2152" y2="406.5" stroke="#000" stroke-width="5.5" stroke-dasharray="20.7 20.75"/>
<text transform="translate(1156.2,720) scale(1.13,0.95)" x="-24.53" y="0" font-size="97">λ</text>
<text y="719" font-size="97" fill="#000">
<tspan x="1212.2" y="730" font-size="100">=</tspan>
<tspan x="1293.0 1340.2 1390.4 1443.8 1492.4 1515.6 1565.2 1614.2 1667.8 1717.0 1739.3 1791.6" y="719">07,0.75,0.79</tspan>
</text>
<line x1="655.6" y1="931" x2="646" y2="540" stroke="#000" stroke-width="7.5" stroke-dasharray="20.7 20.75"/>
<polygon points="643.6,464 625.5,543 668.8,543" fill="#000"/>
<text transform="translate(635.2,1025) scale(1.13,0.95)" x="-24.53" y="0" font-size="97">λ</text>
</svg></body></html>
